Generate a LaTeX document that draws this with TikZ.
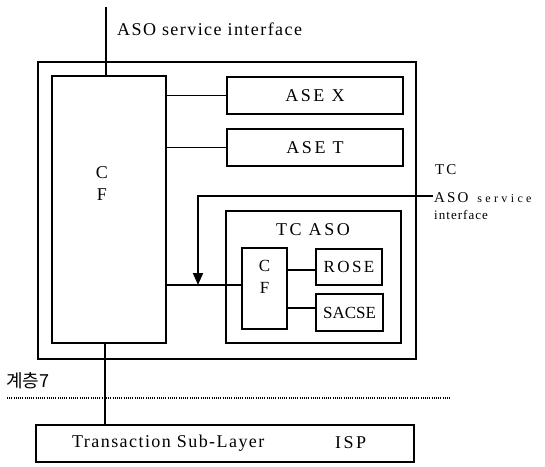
\documentclass[tikz,border=0pt]{standalone}
\usepackage{fontspec}
\setmainfont{Liberation Serif}
\newfontfamily\spc[LetterSpace=8]{Liberation Serif}
\newfontfamily\wide[LetterSpace=14]{Liberation Serif}
\newfontfamily\wider[LetterSpace=28]{Liberation Serif}
\newfontfamily\krfont{Noto Sans CJK KR}
\usetikzlibrary{arrows.meta}
\begin{document}
\begin{tikzpicture}[x=1pt,y=-1pt,
  box/.style={draw,line width=1.8pt,rectangle,inner sep=0pt},
  wire/.style={line width=1.8pt},
  lbl/.style={font=\spc\fontsize{18}{20}\selectfont,inner sep=0pt},
  widelbl/.style={font=\wide\fontsize{18}{20}\selectfont,inner sep=0pt},
  small/.style={font=\spc\fontsize{17}{19}\selectfont,inner sep=0pt}]
\useasboundingbox (0,0) rectangle (545,466);
% outer box
\node[box,minimum width=378pt,minimum height=297pt] (outer) at (227,210.5) {};
% big CF
\node[box,minimum width=114pt,minimum height=267pt] (cf) at (109,209.5) {};
\node[lbl] (cfC) at (102,173) {C};
\node[lbl] (cfF) at (102,195) {F};
% ASE boxes
\node[box,minimum width=176pt,minimum height=37pt,widelbl] (asex) at (315,95.5) {ASE X};
\node[box,minimum width=176pt,minimum height=37pt,widelbl] (aset) at (315,147.5) {ASE T};
\draw[wire] (cf.east |- asex) -- (asex.west);
\draw[wire] (cf.east |- aset) -- (aset.west);
% TC ASO
\node[box,minimum width=175pt,minimum height=132pt] (tcaso) at (313.5,277) {};
\node[widelbl] (tcasol) at (313,230) {TC ASO};
\node[box,minimum width=45pt,minimum height=81pt] (icf) at (264.5,288.5) {};
\node[small] (icfC) at (264.5,266) {C};
\node[small] (icfF) at (264.5,288) {F};
\node[box,minimum width=66pt,minimum height=36pt,font=\wide\fontsize{17}{19}\selectfont] (rose) at (349,267) {ROSE};
\node[box,minimum width=67pt,minimum height=37pt,font=\fontsize{17}{19}\selectfont,inner sep=0pt] (sacse) at (349.5,312.5) {SACSE};
\draw[wire] (icf.east |- 0,270) -- (rose.west |- 0,270);
\draw[wire] (icf.east |- 0,308) -- (sacse.west |- 0,308);
\draw[wire] (cf.east |- 0,285) -- (icf.west |- 0,285);
% TC ASO service interface arrow
\coordinate (tcsi) at (433,196);
\coordinate (tip) at (198,285);
\draw[wire,-{Triangle[length=12pt,width=10pt]}] (tcsi) -| (tip);
\node[font=\wide\fontsize{15}{17}\selectfont,inner sep=0pt,anchor=base west] (tc1) at (435,174) {TC};
\node[inner sep=0pt,anchor=base west] (tc2) at (434,202) {{\wide\fontsize{15}{17}\selectfont ASO}\hspace{9pt}{\wider\fontsize{12}{14}\selectfont service}};
\node[font=\spc\fontsize{13}{15}\selectfont,inner sep=0pt,anchor=base west] (tc3) at (434,219) {interface};
% top interface
\coordinate (top) at (106,7);
\draw[wire] (top) -- (cf.north -| top);
\node[lbl,anchor=west] (asosi) at (117,29) {ASO service interface};
% layer line
\draw[line width=1.1pt,dash pattern=on 1pt off 1.2pt] (7,398) coordinate (dl) -- (450,398) coordinate (dr);
\node[font=\krfont\fontsize{18}{20}\selectfont,inner sep=0pt,anchor=west] (layer) at (6,381) {계층7};
% TSL
\node[box,minimum width=378pt,minimum height=37pt] (tsl) at (225,443.5) {};
\node[lbl,anchor=west] (tsll) at (72,443) {Transaction Sub-Layer};
\node[widelbl,anchor=west] (isp) at (335,443) {ISP};
\draw[wire] (cf.south -| 105,0) -- (tsl.north -| 105,0);
\end{tikzpicture}
\end{document}
